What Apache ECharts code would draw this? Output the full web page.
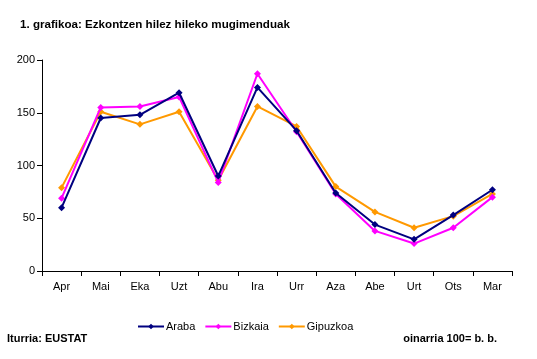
<!DOCTYPE html>
<html><head><meta charset="utf-8">
<script src="https://cdn.jsdelivr.net/npm/echarts@6/dist/echarts.min.js"></script>
<style>html,body{margin:0;padding:0;background:#fff}#c{width:537px;height:359px}</style>
</head><body><div id="c"></div>
<script>
const categories = ["Apr","Mai","Eka","Uzt","Abu","Ira","Urr","Aza","Abe","Urt","Ots","Mar"];
const araba = [60,145,148,169,90,174,133,74,44,30,53,77];
const bizkaia = [69,155,156,165,84,187,132,73,38,26,41,70];
const gipuzkoa = [79,151,139,151,86,156,137,80,56,41,52,73];
const yTicks = [0,50,100,150,200];
const colors = ["#000080","#FF00FF","#FF9900"];
const names = ["Araba","Bizkaia","Gipuzkoa"];
const seriesData = [araba,bizkaia,gipuzkoa];
const font = "Liberation Sans, Arial, sans-serif";
const chart = echarts.init(document.getElementById('c'));
chart.setOption({
  animation:false,
  backgroundColor:'#fff',
  textStyle:{fontFamily:font},
  title:[
    {text:"1. grafikoa: Ezkontzen hilez hileko mugimenduak",left:15,top:14,textStyle:{fontSize:11.6,fontWeight:'bold',color:'#000',fontFamily:font}},
    {text:"Iturria: EUSTAT",left:2,top:328,textStyle:{fontSize:11,fontWeight:'bold',color:'#000',fontFamily:font}},
    {text:"oinarria 100= b. b.",right:35,top:328,textStyle:{fontSize:11,fontWeight:'bold',color:'#000',fontFamily:font}}
  ],
  legend:{
    data:names,left:132,top:316,itemWidth:26,itemHeight:7,itemGap:9,
    textStyle:{fontSize:11,color:'#000',fontFamily:font,padding:[0,0,0,-3]}
  },
  grid:{left:42,right:25,top:60,bottom:88,containLabel:false},
  xAxis:{
    type:'category',data:categories,boundaryGap:true,
    axisLine:{lineStyle:{color:'#000',width:1}},
    axisTick:{show:true,alignWithLabel:false,length:5,lineStyle:{color:'#000'}},
    axisLabel:{color:'#000',fontSize:11,fontFamily:font,margin:10}
  },
  yAxis:{
    type:'value',min:0,max:200,interval:50,
    axisLine:{show:true,lineStyle:{color:'#000',width:1}},
    axisTick:{show:true,length:5,lineStyle:{color:'#000'}},
    splitLine:{show:false},
    axisLabel:{color:'#000',fontSize:11,fontFamily:font,margin:7,
      formatter:v=>yTicks.includes(v)?String(v):''}
  },
  series:seriesData.map((d,i)=>({
    name:names[i],type:'line',data:d,
    symbol:'diamond',symbolSize:7,showSymbol:true,
    lineStyle:{color:colors[i],width:2},
    itemStyle:{color:colors[i],borderWidth:0},
    z:3-i
  }))
});
</script></body></html>
